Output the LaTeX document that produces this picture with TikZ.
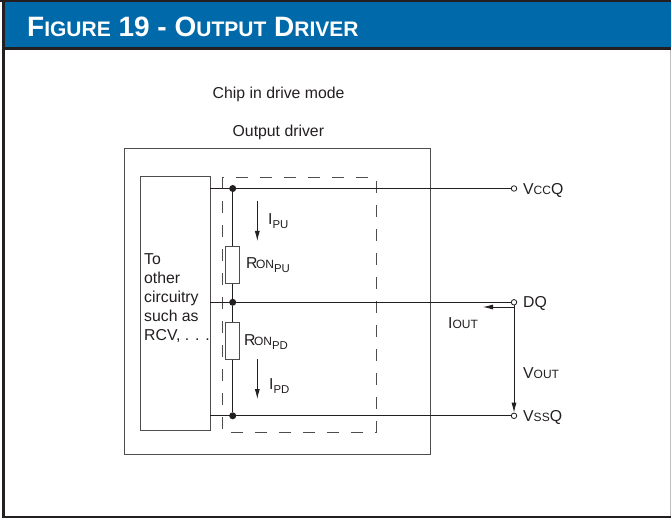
\documentclass[tikz,border=0pt]{standalone}
\usepackage{fontspec}
\setmainfont{Liberation Sans}
\usetikzlibrary{arrows.meta}
\definecolor{bannerblue}{HTML}{0069AA}
\definecolor{inkdark}{HTML}{231F20}
\newcommand{\lowpart}[1]{{\fontsize{12}{12}\selectfont #1}}
\newcommand{\subpart}[1]{\raisebox{-4pt}{\fontsize{11.4}{11.4}\selectfont #1}}
\tikzset{
  lbl/.style={font=\fontsize{15.8}{19}\selectfont,text=inkdark,inner sep=0pt,anchor=base west},
  wire/.style={draw=inkdark,line width=0.9pt},
  frame/.style={draw=inkdark!80,line width=0.9pt,inner sep=0pt},
  resistor/.style={draw=inkdark!80,fill=white,line width=0.8pt,inner sep=0pt,minimum width=14pt,minimum height=36.5pt},
  joint/.style={circle,fill=inkdark,inner sep=0pt,minimum size=7pt},
  terminal/.style={circle,draw=inkdark,fill=white,line width=0.8pt,inner sep=0pt,minimum size=5.5pt},
  sense/.style={draw=inkdark,line width=0.8pt,-{Latex[length=10pt,width=5pt]}}
}
\begin{document}
\begin{tikzpicture}[x=1pt,y=-1pt]
\useasboundingbox (0,0) rectangle (671,518);
\fill[white] (0,0) rectangle (671,518);
% banner and page edges
\fill[bannerblue] (4,2) rectangle (671,48);
\fill[inkdark] (0,0) rectangle (671,2);
\fill[inkdark] (2,0) rectangle (4.5,518);
\fill[inkdark] (4,47.5) rectangle (671,50);
\fill[inkdark] (2,515.5) rectangle (671,518);
\fill[black!25] (669.5,50) rectangle (671,515.5);
\node[font=\bfseries\fontsize{28}{28}\selectfont,text=white,inner sep=0pt,anchor=base west] (title) at (27,36.5)
  {F{\fontsize{21}{21}\selectfont IGURE} 19 - O{\fontsize{21}{21}\selectfont UTPUT} D{\fontsize{21}{21}\selectfont RIVER}};
\node[lbl] (mode) at (212.5,99) {Chip in drive mode};
\node[lbl] (driver) at (232.5,137) {Output driver};

% chip outline and dashed driver box
\node[frame,rectangle,minimum width=306pt,minimum height=305pt,anchor=north west] (chip) at (124,148.5) {};
\node[frame,rectangle,minimum width=70pt,minimum height=254pt,anchor=north west] (other) at (140,176) {};
\node[lbl,align=left] (othertext) at (144,340.5) {To\\other\\circuitry\\such as\\RCV, . . .};
\draw[draw=inkdark!80,line width=0.9pt,dash pattern=on 12pt off 12pt] (222,177) rectangle (376,432);

% rails
\node[joint] (jvcc) at (232.7,188.5) {};
\node[joint] (jdq) at (232.7,302.3) {};
\node[joint] (jvss) at (232.7,415.8) {};
\node[terminal] (vcc) at (514,188.5) {};
\node[terminal] (dq) at (514,302.3) {};
\node[terminal] (vss) at (514,415.8) {};
\coordinate (lvcc) at (210,188.5);
\coordinate (ldq) at (210,302.3);
\coordinate (lvss) at (210,415.8);
\draw[wire] (lvcc) -- (vcc);
\draw[wire] (ldq) -- (dq);
\draw[wire] (lvss) -- (vss);

% resistors
\draw[wire] (jvcc) -- (jdq);
\draw[wire] (jdq) -- (jvss);
\node[resistor] (rpu) at (232.7,265) {};
\node[resistor] (rpd) at (232.7,341) {};
\node[lbl] (rpulabel) at (246,268.7) {R\kern-1.5pt\lowpart{ON}\subpart{PU}};
\node[lbl] (rpdlabel) at (244,345.7) {R\kern-1.5pt\lowpart{ON}\subpart{PD}};

% currents and voltage
\coordinate (ipustart) at (257.3,201.5);
\coordinate (ipuend) at (257.3,241);
\coordinate (ipdstart) at (257.3,359);
\coordinate (ipdend) at (257.3,399);
\draw[sense] (ipustart) -- (ipuend);
\draw[sense] (ipdstart) -- (ipdend);
\node[lbl] (ipu) at (268,224.5) {I\subpart{PU}};
\node[lbl] (ipd) at (269,389) {I\subpart{PD}};
\coordinate (ioutstart) at (514,307);
\coordinate (ioutend) at (483,307);
\draw[sense] (ioutstart) -- (ioutend);
\node[lbl] (iout) at (448,328) {I\lowpart{OUT}};
\draw[sense] (dq) -- (vss);
\node[lbl] (vout) at (523,378) {V\lowpart{OUT}};

% terminal labels
\node[lbl] (vcclabel) at (523,195) {V\lowpart{CC}Q};
\node[lbl] (dqlabel) at (523,307.5) {DQ};
\node[lbl] (vsslabel) at (523,421) {V\lowpart{SS}Q};
\end{tikzpicture}
\end{document}
